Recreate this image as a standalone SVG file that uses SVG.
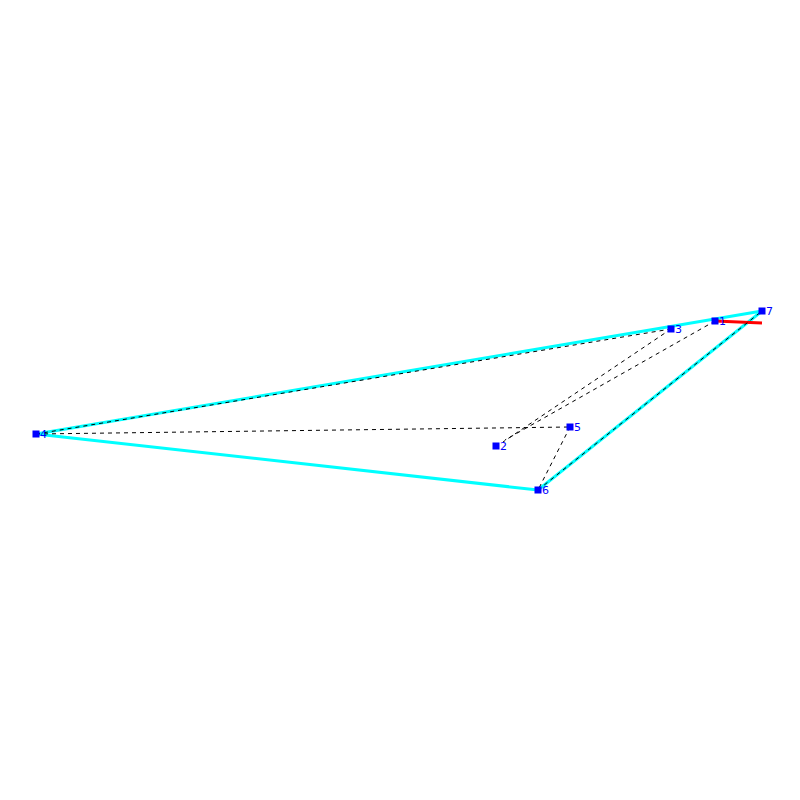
<svg xmlns="http://www.w3.org/2000/svg" width="800" height="800" viewBox="0 0 800 800">
<style>
.hull{stroke:#00ffff;stroke-width:3;fill:none}
.dash{stroke:#000;stroke-width:1;stroke-dasharray:4,4;fill:none}
.red{stroke:#ff0000;stroke-width:3;fill:none}
.node rect{fill:#0000ff}
.node text{fill:#0000ff;font-family:"DejaVu Sans",sans-serif;font-size:11px}
</style>
<rect width="800" height="800" fill="#fff"/>
<g id="connectors">
<line class="hull" x1="36" y1="434" x2="762" y2="311"/>
<line class="hull" x1="762" y1="311" x2="538" y2="490"/>
<line class="hull" x1="538" y1="490" x2="36" y2="434"/>
<line class="red" x1="715" y1="321" x2="762" y2="323"/>
<line class="dash" x1="36" y1="434" x2="671" y2="329"/>
<line class="dash" x1="36" y1="434" x2="570" y2="427"/>
<line class="dash" x1="671" y1="329" x2="503" y2="442"/>
<line class="dash" x1="715" y1="321" x2="505" y2="440"/>
<line class="dash" x1="570" y1="427" x2="538" y2="490"/>
<line class="dash" x1="538" y1="490" x2="762" y2="311"/>
</g>
<g id="n1" class="node"><rect x="711.5" y="317.5" width="7" height="7"/><text x="719" y="325">1</text></g>
<g id="n2" class="node"><rect x="492.5" y="442.5" width="7" height="7"/><text x="500" y="450">2</text></g>
<g id="n3" class="node"><rect x="667.5" y="325.5" width="7" height="7"/><text x="675" y="333">3</text></g>
<g id="n4" class="node"><rect x="32.5" y="430.5" width="7" height="7"/><text x="40" y="438">4</text></g>
<g id="n5" class="node"><rect x="566.5" y="423.5" width="7" height="7"/><text x="574" y="431">5</text></g>
<g id="n6" class="node"><rect x="534.5" y="486.5" width="7" height="7"/><text x="542" y="494">6</text></g>
<g id="n7" class="node"><rect x="758.5" y="307.5" width="7" height="7"/><text x="766" y="315">7</text></g>
</svg>
